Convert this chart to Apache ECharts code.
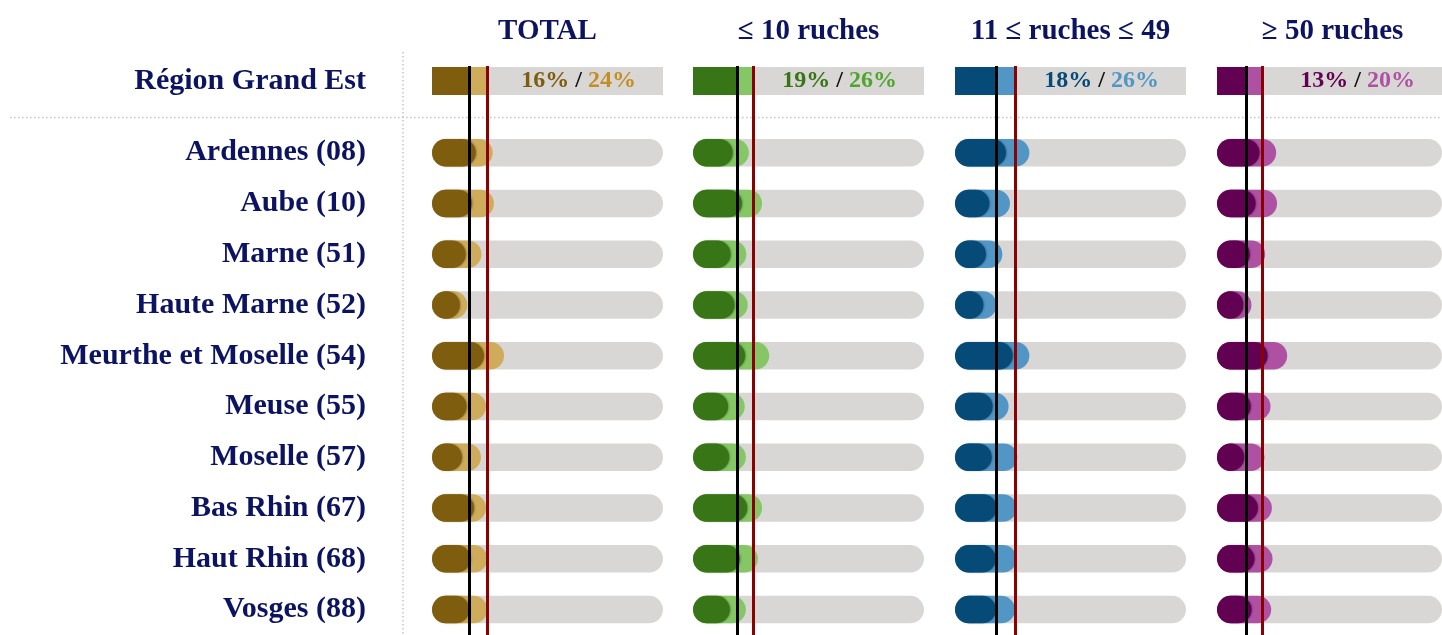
<!DOCTYPE html>
<html>
<head>
<meta charset="utf-8">
<script src="https://cdn.jsdelivr.net/npm/echarts@6/dist/echarts.min.js"></script>
<style>html,body{margin:0;padding:0;background:#fff}#c{width:1442px;height:635px}</style>
</head>
<body>
<div id="c"></div>
<script>
// ---------- data ----------
const regionName = 'Région Grand Est';
const categories = ['Ardennes (08)', 'Aube (10)', 'Marne (51)', 'Haute Marne (52)', 'Meurthe et Moselle (54)', 'Meuse (55)', 'Moselle (57)', 'Bas Rhin (67)', 'Haut Rhin (68)', 'Vosges (88)'];
const groups = ['TOTAL', '≤ 10 ruches', '11 ≤ ruches ≤ 49', '≥ 50 ruches'];
const regionDark = [16, 19, 18, 13];
const regionLight = [24, 26, 26, 20];
const totalDark  = [19.0, 17.3, 14.6, 12.1, 22.5, 15.0, 13.0, 18.2, 16.7, 16.2];
const totalLight = [26.3, 26.8, 21.4, 15.3, 31.2, 23.4, 21.2, 23.4, 24.0, 24.0];
const smallDark  = [17.2, 21.2, 16.3, 18.0, 22.6, 15.2, 15.7, 23.5, 20.3, 16.0];
const smallLight = [24.2, 29.9, 23.1, 23.7, 33.0, 22.4, 22.9, 29.9, 28.1, 22.9];
const midDark    = [22.1, 14.9, 13.4, 12.3, 25.0, 16.3, 15.9, 18.0, 17.7, 17.7];
const midLight   = [32.2, 23.8, 20.5, 18.0, 32.2, 23.2, 27.0, 26.7, 26.7, 26.0];
const largeDark  = [18.9, 17.2, 14.6, 11.7, 22.5, 15.0, 12.1, 18.2, 16.7, 15.4];
const largeLight = [26.3, 26.7, 21.4, 15.3, 31.2, 23.8, 21.1, 24.4, 24.7, 24.1];
const AXIS_MAX = 100;

// ---------- styles ----------
const darkSets = [totalDark, smallDark, midDark, largeDark];
const lightSets = [totalLight, smallLight, midLight, largeLight];
const darkColors = ['#7f5d0f', '#387516', '#064a77', '#620052'];
const lightColors = ['#cfac5b', '#86c765', '#5296c6', '#af51a2'];
const lightText = ['#c38e25', '#4fa62c', '#5296c6', '#af51a2'];
const NAVY = '#0c1462';
const GRAY = '#d8d7d5';
const FONT = 'Liberation Serif';
const COLS = [432, 693, 955, 1217];
const COLW = 231;

const grid = [], xAxis = [], yAxis = [], series = [];
COLS.forEach((left, c) => {
  const gR = grid.length; grid.push({left: left, top: 67, width: COLW, height: 28});
  const gD = grid.length; grid.push({left: left, top: 127.33, width: COLW, height: 513.33});
  const gL = grid.length; grid.push({left: left, top: 66, width: COLW, height: 570});
  [gR, gD, gL].forEach(g => xAxis.push({gridIndex: g, type: 'value', min: 0, max: AXIS_MAX, show: false}));
  const lab = {show: c === 0, color: NAVY, fontFamily: FONT, fontWeight: 'bold', fontSize: 30, lineHeight: 30, margin: 66, verticalAlign: 'middle', padding: [0, 0, 8, 0]};
  yAxis.push({gridIndex: gR, type: 'category', data: [regionName], axisLine: {show: false}, axisTick: {show: false}, axisLabel: Object.assign({}, lab, {padding: [0,0,3,0]})});
  yAxis.push({gridIndex: gD, type: 'category', inverse: true, data: categories, axisLine: {show: false}, axisTick: {show: false}, axisLabel: lab});
  yAxis.push({gridIndex: gL, type: 'value', min: 0, max: 1, show: false});

  // region row
  series.push({
    type: 'bar', xAxisIndex: gR, yAxisIndex: gR, data: [AXIS_MAX], barWidth: 28, barGap: '-100%',
    itemStyle: {color: GRAY}, silent: true,
    label: {
      show: true, position: 'insideRight', distance: 27,
      formatter: () => '{d|' + regionDark[c] + '%}{s|/}{l|' + regionLight[c] + '%}',
      rich: {
        d: {color: darkColors[c], fontFamily: FONT, fontWeight: 'bold', fontSize: 24},
        s: {color: '#111', fontFamily: FONT, fontWeight: 'bold', fontSize: 24, padding: [0, 6, 0, 6]},
        l: {color: lightText[c], fontFamily: FONT, fontWeight: 'bold', fontSize: 24}
      }
    }
  });
  series.push({type: 'bar', xAxisIndex: gR, yAxisIndex: gR, data: [regionLight[c]], barWidth: 28, barGap: '-100%', itemStyle: {color: lightColors[c]}});
  series.push({type: 'bar', xAxisIndex: gR, yAxisIndex: gR, data: [regionDark[c]], barWidth: 28, barGap: '-100%', itemStyle: {color: darkColors[c]}});

  // departments
  series.push({
    type: 'bar', xAxisIndex: gD, yAxisIndex: gD, data: lightSets[c], barWidth: 27.5, barGap: '-100%',
    showBackground: true, backgroundStyle: {color: GRAY, borderRadius: 14},
    itemStyle: {color: lightColors[c], borderRadius: 14}
  });
  series.push({
    type: 'bar', xAxisIndex: gD, yAxisIndex: gD, data: darkSets[c], barWidth: 27.5, barGap: '-100%',
    itemStyle: {color: darkColors[c], borderRadius: 14, shadowColor: 'rgba(0,0,0,0.25)', shadowBlur: 2, shadowOffsetX: 1}
  });

  // reference lines
  series.push({
    type: 'scatter', xAxisIndex: gL, yAxisIndex: gL, data: [[regionDark[c], 0.5]], symbolSize: 0, z: 10, silent: true,
    markLine: {
      silent: true, symbol: 'none', label: {show: false}, animation: false,
      data: [
        {xAxis: regionDark[c], lineStyle: {color: '#000', width: 3, type: 'solid'}},
        {xAxis: regionLight[c], lineStyle: {color: '#8b0000', width: 3, type: 'solid'}}
      ]
    }
  });
});

const graphic = [
  {type: 'line', shape: {x1: 403, y1: 52, x2: 403, y2: 635}, style: {stroke: '#c4c4c4', lineWidth: 1.5, lineDash: [1.5, 2.5]}, z: 0, silent: true},
  {type: 'line', shape: {x1: 10, y1: 117.5, x2: 1442, y2: 117.5}, style: {stroke: '#c4c4c4', lineWidth: 1.5, lineDash: [1.5, 2.5]}, z: 0, silent: true}
];
groups.forEach((g, c) => {
  graphic.push({type: 'text', x: COLS[c] + COLW / 2, y: 32, silent: true,
    style: {text: g, fill: NAVY, font: 'bold 29px "Liberation Serif"', align: 'center', verticalAlign: 'middle', textAlign: 'center', textVerticalAlign: 'middle'}});
});

const chart = echarts.init(document.getElementById('c'), null, {renderer: 'canvas'});
chart.setOption({animation: false, grid, xAxis, yAxis, series, graphic});
</script>
</body>
</html>
